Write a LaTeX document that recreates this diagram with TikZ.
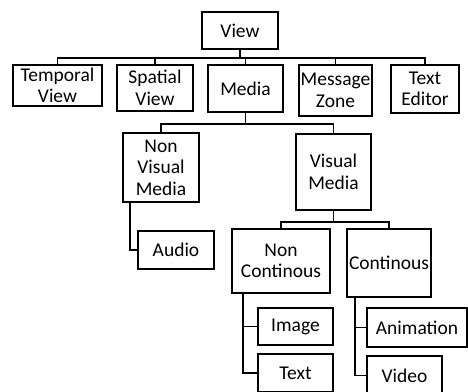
\documentclass[tikz,border=0pt]{standalone}
\usepackage{fontspec}
\setmainfont{Carlito}
\newcommand{\boxfont}{\fontsize{19.5}{21.5}\selectfont}
\tikzset{
  box/.style={draw=black, line width=1.8pt, inner sep=0pt, align=center,
              font=\boxfont, fill=white},
  wire/.style={draw=black, line width=1.8pt},
  sz/.style 2 args={minimum width=#1pt, minimum height=#2pt}
}
\begin{document}
\begin{tikzpicture}[x=1pt, y=-1pt]
\useasboundingbox[fill=white] (0,0) rectangle (468,391);

% bus levels
\coordinate (busA) at (0,58);
\coordinate (busB) at (0,124);
\coordinate (busC) at (0,222);

% top level
\node[box, sz={76}{37}] (view) at (240,30.5) {View};

% second level
\node[box, sz={89}{41}] (temporal) at (57.5,85.5) {Temporal\\View};
\node[box, sz={76}{46}] (spatial) at (155,88) {Spatial\\View};
\node[box, sz={75}{47}] (media) at (245.5,88.5) {Media};
\node[box, sz={73}{51}] (message) at (335.5,90.5) {Message\\Zone};
\node[box, sz={68}{48}] (texted) at (425,89) {Text\\Editor};

% media branch
\node[box, sz={76}{69}] (nvm) at (161,167.5) {Non\\Visual\\Media};
\node[box, sz={75}{76}] (vm) at (333.5,172) {Visual\\Media};
\node[box, sz={76}{38}] (audio) at (176,250) {Audio};

% visual media branch
\node[box, sz={98}{64}] (noncont) at (281,261) {Non\\Continous};
\node[box, sz={84}{68}] (cont) at (389,263) {Continous};
\node[box, sz={75}{37}] (image) at (295.5,326.5) {Image};
\node[box, sz={75}{38}] (text) at (295.5,373) {Text};
\node[box, sz={100}{39}] (anim) at (417,327.5) {Animation};
\node[box, sz={75}{39}] (video) at (404.5,375.5) {Video};

% connectors
\draw[wire] (view.south) -- (view.south |- busA);
\draw[wire] (temporal.north) |- (texted.north |- busA) -- (texted.north);
\draw[wire] (spatial.north) -- (spatial.north |- busA);
\draw[wire] (media.north) -- (media.north |- busA);
\draw[wire] (message.north) -- (message.north |- busA);

\draw[wire] (media.south) -- (media.south |- busB);
\draw[wire] (nvm.north) |- (vm.north |- busB) -- (vm.north);
\draw[wire] ([xshift=8pt]nvm.south west) |- (audio.west);

\draw[wire] (vm.south) -- (vm.south |- busC);
\draw[wire] (noncont.north) |- (cont.north |- busC) -- (cont.north);
\draw[wire] ([xshift=12pt]noncont.south west) |- (image.west);
\draw[wire] ([xshift=12pt]noncont.south west) |- (text.west);
\draw[wire] ([xshift=9pt]cont.south west) |- (anim.west);
\draw[wire] ([xshift=9pt]cont.south west) |- (video.west);
\end{tikzpicture}
\end{document}
